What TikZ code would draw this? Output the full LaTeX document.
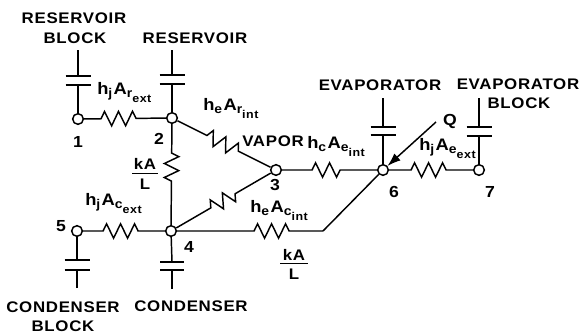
\documentclass[tikz,border=0pt]{standalone}
\usepackage{fontspec}
\setmainfont{Liberation Sans}[BoldFont={Liberation Sans Bold}]
\newfontfamily\lblfont{Liberation Sans Bold}[FakeStretch=1.1,LetterSpace=4.5]
\usetikzlibrary{decorations.pathmorphing,arrows.meta}
\newcommand{\subl}[1]{\raisebox{-.35ex}{\fontsize{9.5}{10}\selectfont #1}}
\newcommand{\subsub}[1]{\raisebox{-.95ex}{\fontsize{8.5}{10}\selectfont #1}}
\newcommand{\hA}[4]{h\subl{#1}\kern1pt A\subl{#2}\subsub{#3#4}}
\tikzset{
  wire/.style={line width=1.1pt,line join=miter},
  res/.style 2 args={wire,decorate,decoration={zigzag,segment length=10.5pt,amplitude=5.4pt,pre length=#1*0.75pt,post length=#2*0.75pt}},
  nd/.style={circle,draw,line width=1.1pt,fill=white,minimum size=8pt,inner sep=0pt},
  plate/.style={line width=1.5pt},
  txt/.style={font=\lblfont\fontsize{11.5}{12}\selectfont,inner sep=0pt,anchor=base},
  lab/.style={txt,anchor=base west},
  coef/.style={lab,font=\lblfont\fontsize{12.5}{13}\selectfont},
  num/.style={font=\lblfont\fontsize{12}{13}\selectfont,inner sep=0pt},
}
\begin{document}
\begin{tikzpicture}[x=0.75pt,y=-0.75pt]
\useasboundingbox[fill=white] (0,0) rectangle (581,333);
% thermal nodes
\node[nd] (n1) at (78,119) {};
\node[nd] (n2) at (172,118) {};
\node[nd] (n3) at (276,170) {};
\node[nd] (n4) at (171,231) {};
\node[nd] (n5) at (77,231) {};
\node[nd] (n6) at (383,170) {};
\node[nd] (n7) at (479,170) {};
\coordinate (bend) at (323,231);
% resistors
\draw[res={17}{24}] (n1) -- (n2);
\draw[res={33}{33}] (n2) -- (n3);
\draw[res={29}{40}] (n2) -- (n4);
\draw[res={40}{38}] (n4) -- (n3);
\draw[res={30}{31}] (n3) -- (n6);
\draw[res={22}{21}] (n6) -- (n7);
\draw[res={20}{23}] (n5) -- (n4);
\draw[res={77}{30}] (n4) -- (bend);
\draw[wire] (bend) -- (n6);
% capacitors: top plate, bottom plate, leads
\foreach \n/\tx/\ty/\ax/\ay/\bx/\by/\ex/\ey/\w in {
  n1/78/50/78/76/78/85/78/113/12.5,
  n2/172/50/172/75/172/84/172/113/12.5,
  n6/383/98/383/127/383/135/383/165/12.5,
  n7/479/98/479/127/479/136/479/165/12.5,
  n4/172/289/172/270/172/262/172/237/12,
  n5/77/288/77/270/77/260/77/237/12.5}{
  \coordinate (\n far) at (\tx,\ty);
  \coordinate (\n pa) at (\ax,\ay);
  \coordinate (\n pb) at (\bx,\by);
  \draw[wire] (\n far) -- (\n pa);
  \draw[wire] (\n pb) -- (\n);
  \draw[plate] ([xshift=-\w*0.75pt]\n pa) -- ([xshift=\w*0.75pt]\n pa);
  \draw[plate] ([xshift=-\w*0.75pt]\n pb) -- ([xshift=\w*0.75pt]\n pb);
}
% heat input
\node[num] (q) at (450,121) {Q};
\coordinate (qs) at (436,122);
\draw[wire,-{Latex[length=10pt,width=7pt]}] (qs) -- (n6);
% numbers
\node[num] (t1) at (78,142) {1};
\node[num] (t2) at (159,139) {2};
\node[num] (t3) at (275,185) {3};
\node[num] (t4) at (189,247) {4};
\node[num] (t5) at (61,226) {5};
\node[num] (t6) at (394,192) {6};
\node[num] (t7) at (490,192) {7};
% names
\node[txt] (a1) at (74,23) {RESERVOIR};
\node[txt] (a2) at (75,43) {BLOCK};
\node[txt] (b1) at (195,43) {RESERVOIR};
\node[txt] (c1) at (380,90) {EVAPORATOR};
\node[txt] (d1) at (518,89) {EVAPORATOR};
\node[txt] (d2) at (519,108) {BLOCK};
\node[txt] (e1) at (63,312) {CONDENSER};
\node[txt] (e2) at (63,331) {BLOCK};
\node[txt] (f1) at (191,311) {CONDENSER};
\node[lab] (v) at (242,146) {VAPOR};
% coefficients
\node[coef] (l1) at (97,94) {\hA{j}{r}{}{ext}};
\node[coef] (l2) at (203,110) {\hA{e}{r}{}{int}};
\node[coef] (l3) at (307,148) {\hA{c}{e}{}{int}};
\node[coef] (l4) at (419,150) {\hA{j}{e}{}{ext}};
\node[coef] (l5) at (85,205) {\hA{j}{c}{}{ext}};
\node[coef] (l6) at (250,212) {\hA{e}{c}{}{int}};
% kA/L
\node[txt] (k1) at (145,169) {kA};
\node[txt] (k2) at (145,189) {L};
\node[txt] (k3) at (294,260) {kA};
\node[txt] (k4) at (294,279) {L};
\draw[line width=1.1pt] (132,173.5) -- (158,173.5);
\draw[line width=1.1pt] (280,263.5) -- (308,263.5);
\end{tikzpicture}
\end{document}
